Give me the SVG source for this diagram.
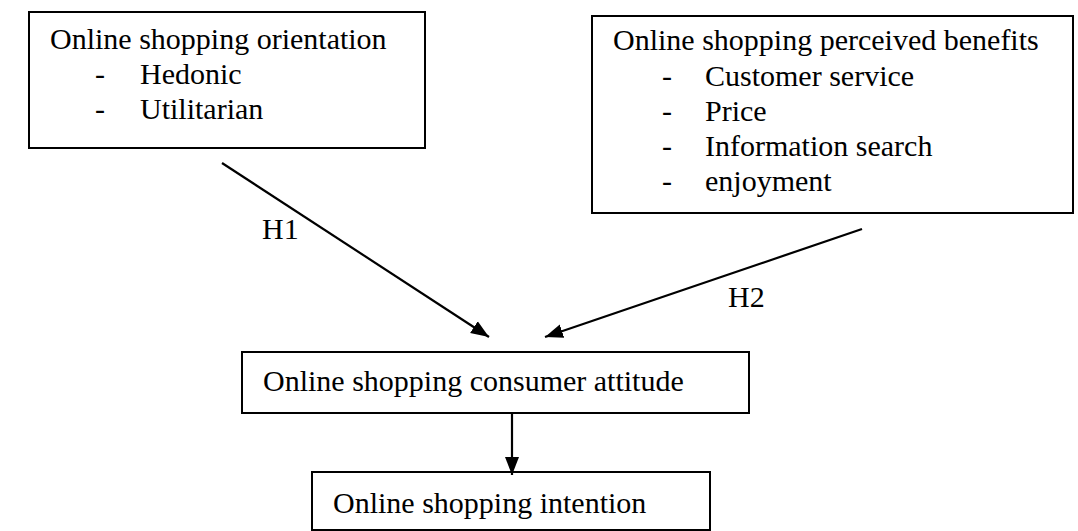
<svg xmlns="http://www.w3.org/2000/svg" width="1078" height="531" viewBox="0 0 1078 531">
  <style>
    .box { fill: #fff; stroke: #000; stroke-width: 2; }
    .txt { font-family: "Liberation Serif", "Times New Roman", serif; font-size: 30px; fill: #000; }
    .edge { stroke: #000; stroke-width: 2.2; fill: none; marker-end: url(#head); }
  </style>
  <defs>
    <marker id="head" markerUnits="userSpaceOnUse" markerWidth="19" markerHeight="16" refX="18" refY="8" orient="auto">
      <path d="M0,1 L18,8 L0,15 z" fill="#000"/>
    </marker>
  </defs>
  <rect width="1078" height="531" fill="#fff"/>

  <!-- orientation factors -->
  <g id="orientation">
    <rect class="box" x="29" y="12" width="396" height="136"/>
    <text class="txt" x="50" y="49">Online shopping orientation</text>
    <text class="txt" x="95" y="84">-</text>
    <text class="txt" x="140" y="84">Hedonic</text>
    <text class="txt" x="95" y="119">-</text>
    <text class="txt" x="140" y="119">Utilitarian</text>
  </g>

  <!-- perceived benefit factors -->
  <g id="benefits">
    <rect class="box" x="592" y="16" width="481" height="197"/>
    <text class="txt" x="613" y="50">Online shopping perceived benefits</text>
    <text class="txt" x="662" y="86">-</text>
    <text class="txt" x="705" y="86">Customer service</text>
    <text class="txt" x="662" y="121">-</text>
    <text class="txt" x="705" y="121">Price</text>
    <text class="txt" x="662" y="156">-</text>
    <text class="txt" x="705" y="156">Information search</text>
    <text class="txt" x="662" y="191">-</text>
    <text class="txt" x="705" y="191">enjoyment</text>
  </g>

  <!-- attitude -->
  <g id="attitude">
    <rect class="box" x="242" y="352" width="507" height="61"/>
    <text class="txt" x="263" y="391">Online shopping consumer attitude</text>
  </g>

  <!-- intention -->
  <g id="intention">
    <rect class="box" x="312" y="472" width="398" height="58"/>
    <text class="txt" x="333" y="513">Online shopping intention</text>
  </g>

  <!-- connectors -->
  <g id="connectors">
    <line class="edge" x1="222" y1="163" x2="489" y2="337"/>
    <line class="edge" x1="862" y1="229" x2="545" y2="337"/>
    <line class="edge" x1="512" y1="413" x2="512" y2="475"/>
    <text class="txt" x="262" y="239">H1</text>
    <text class="txt" x="728" y="307">H2</text>
  </g>
</svg>
